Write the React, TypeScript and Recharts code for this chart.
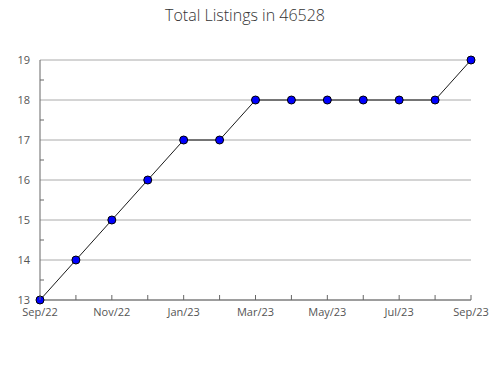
import { LineChart, Line, XAxis, YAxis, CartesianGrid } from "recharts";

const months = [
  "Sep/22", "Oct/22", "Nov/22", "Dec/22", "Jan/23", "Feb/23", "Mar/23",
  "Apr/23", "May/23", "Jun/23", "Jul/23", "Aug/23", "Sep/23",
];
const listings = [13, 14, 15, 16, 17, 17, 18, 18, 18, 18, 18, 18, 19];
const yTicks = [13, 13.5, 14, 14.5, 15, 15.5, 16, 16.5, 17, 17.5, 18, 18.5, 19];
const yGrid = [13, 14, 15, 16, 17, 18, 19];

const data = months.map((m, i) => ({ month: m, value: listings[i] }));

const font = "'Open Sans', sans-serif";
const textColor = "#555";
const axisColor = "#666";

function XTick(props: any) {
  const { x, y, payload, index } = props;
  return (
    <g>
      <line x1={x} x2={x} y1={y} y2={y - 5} stroke={axisColor} strokeWidth={1} />
      {index % 2 === 0 && (
        <text x={x} y={y + 16} textAnchor="middle" fontSize={11} fill={textColor} fontFamily={font}>
          {payload.value}
        </text>
      )}
    </g>
  );
}

function YTick(props: any) {
  const { x, y, payload } = props;
  const whole = Number.isInteger(payload.value);
  return (
    <g>
      {!whole && <line x1={x} x2={x + 4} y1={y} y2={y} stroke={axisColor} strokeWidth={1} />}
      {whole && (
        <text x={x - 10} y={y + 4} textAnchor="end" fontSize={11} fill={textColor} fontFamily={font}>
          {payload.value}
        </text>
      )}
    </g>
  );
}

export default function App() {
  return (
    <div style={{ position: "absolute", left: 0, top: 0, width: 490, height: 380, background: "#fff" }}>
      <div
        style={{
          position: "absolute", left: 0, top: 4, width: 490, textAlign: "center",
          fontFamily: font, fontSize: 16, color: "#333", fontWeight: 300,
        }}
      >
        Total Listings in 46528
      </div>
      <LineChart width={490} height={380} data={data} margin={{ top: 60, right: 19, left: 0, bottom: 0 }}>
        <CartesianGrid vertical={false} horizontalValues={yGrid} stroke="#aaa" />
        <XAxis
          dataKey="month"
          interval={0}
          height={80}
          tickSize={0}
          tickMargin={0}
          tickLine={false}
          tick={<XTick />}
          stroke={axisColor}
        />
        <YAxis
          width={40}
          domain={[13, 19]}
          ticks={yTicks}
          interval={0}
          tickSize={0}
          tickMargin={0}
          tickLine={false}
          tick={<YTick />}
          stroke={axisColor}
        />
        <Line
          type="linear"
          dataKey="value"
          stroke="#000"
          strokeWidth={0.9}
          dot={{ r: 4, fill: "#0000ff", stroke: "#000", strokeWidth: 1 }}
          isAnimationActive={false}
        />
      </LineChart>
    </div>
  );
}
